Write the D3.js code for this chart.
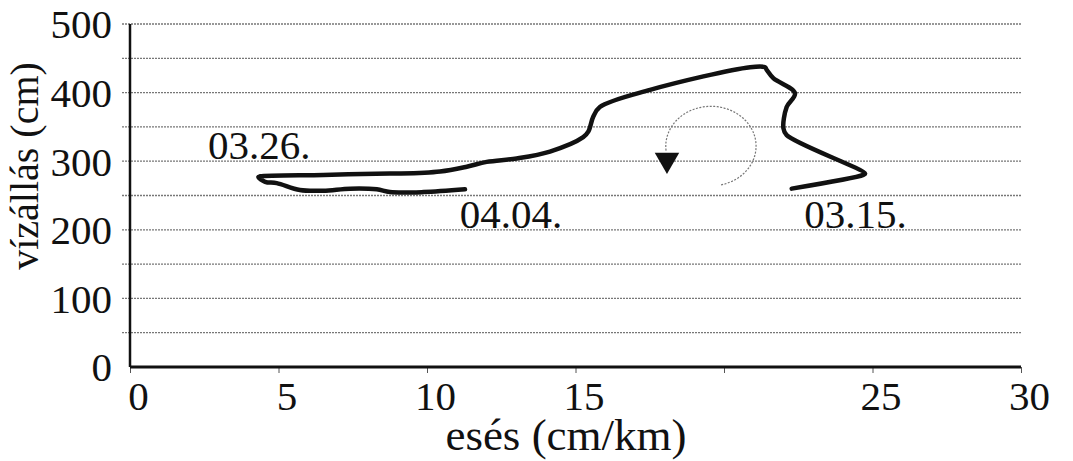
<!DOCTYPE html>
<html>
<head>
<meta charset="utf-8">
<script src="https://cdn.jsdelivr.net/npm/d3@7"></script>
<style>
  body { margin: 0; background: #fff; }
</style>
</head>
<body>
<svg width="1073" height="461"></svg>
<script>
// hysteresis loop: slope (cm/km) vs stage (cm), 03.15. -> 04.04.
const slope = [22.28, 24.69, 24.75, 22.11, 22.0, 22.11, 22.39, 21.66, 21.44, 21.38, 20.88,
  17.51, 15.82, 15.60, 15.43, 15.26, 14.14, 13.02, 12.01, 11.34, 10.44, 9.09, 8.75, 6.51,
  4.38, 4.32, 4.55, 4.94, 5.72, 6.51, 7.41, 8.31, 8.75, 9.88, 11.28];
const stage = [260, 280, 282, 338, 348, 379, 399, 421, 433, 437, 437,
  404, 379, 365, 343, 335, 314, 304, 299, 292, 285, 282, 282, 280,
  278, 277, 270, 268, 258, 257, 260, 259, 255, 255, 259];

const xTicks = [0, 5, 10, 15, 20, 25, 30];
const xTickLabels = ['0', '5', '10', '15', '', '25', '30'];
const yTicks = [0, 100, 200, 300, 400, 500];
const gridValues = [50, 100, 150, 200, 250, 300, 350, 400, 450, 500];

const dateLabels = ['03.26.', '04.04.', '03.15.'];
const dateLabelX = [2.63, 11.1, 22.7];
const dateLabelY = [303, 203, 202];

const FONT = 'Liberation Serif, DejaVu Serif, Times New Roman, serif';

const svg = d3.select('svg');
const width = +svg.attr('width');
const height = +svg.attr('height');

const margin = {top: 24, right: 52, bottom: 94, left: 130};
const innerWidth = width - margin.left - margin.right;
const innerHeight = height - margin.top - margin.bottom;

const xScale = d3.scaleLinear().domain([0, 30]).range([0, innerWidth]);
const yScale = d3.scaleLinear().domain([0, 500]).range([innerHeight, 0]);

const g = svg.append('g')
    .attr('transform', `translate(${margin.left}, ${margin.top})`);

// gridlines
g.selectAll('.grid').data(gridValues)
  .enter().append('line')
    .attr('x1', -8)
    .attr('x2', innerWidth)
    .attr('y1', d => yScale(d))
    .attr('y2', d => yScale(d))
    .attr('stroke', '#777')
    .attr('stroke-width', 1.3)
    .attr('stroke-dasharray', '2,1');

// y axis
const yAxis = d3.axisLeft(yScale).tickValues(yTicks).tickSize(0).tickPadding(18);
const yG = g.append('g').call(yAxis)
    .attr('font-family', FONT).attr('font-size', 41);
yG.select('.domain').remove();
yG.selectAll('text').attr('fill', '#111').attr('dy', '0.34em');

// x axis
const xAxis = d3.axisBottom(xScale).tickValues(xTicks)
    .tickFormat((d, i) => xTickLabels[i]).tickSize(6).tickPadding(8);
const xG = g.append('g').attr('transform', `translate(0, ${innerHeight})`).call(xAxis)
    .attr('font-family', FONT).attr('font-size', 41);
xG.select('.domain').remove();
xG.selectAll('.tick line').attr('stroke', '#555');
xG.selectAll('text').attr('fill', '#111').attr('x', 8);

// axis lines
g.append('line').attr('x1', 0).attr('x2', 0).attr('y1', 0).attr('y2', innerHeight)
    .attr('stroke', '#111').attr('stroke-width', 2.5);
g.append('line').attr('x1', 0).attr('x2', innerWidth).attr('y1', innerHeight).attr('y2', innerHeight)
    .attr('stroke', '#111').attr('stroke-width', 3);

// loop curve
const points = slope.map((s, i) => [s, stage[i]]);
const line = d3.line()
    .x(d => xScale(d[0]))
    .y(d => yScale(d[1]))
    .curve(d3.curveCatmullRom.alpha(0.5));
g.append('path')
    .datum(points)
    .attr('d', line)
    .attr('fill', 'none')
    .attr('stroke', '#111')
    .attr('stroke-width', 4.5)
    .attr('stroke-linejoin', 'round')
    .attr('stroke-linecap', 'round');

// direction arrow (thin dashed arc)
const cx = 19.56, cy = 322, rx = 1.52, ry = 58;
const arcAngles = d3.range(77, -189, -3);
const arcPts = arcAngles.map(a => [cx + rx * Math.cos(a * Math.PI / 180), cy - ry * Math.sin(a * Math.PI / 180)]);
g.append('path')
    .datum(arcPts)
    .attr('d', d3.line().x(d => xScale(d[0])).y(d => yScale(d[1])).curve(d3.curveCatmullRom))
    .attr('fill', 'none')
    .attr('stroke', '#777')
    .attr('stroke-width', 1.2)
    .attr('stroke-dasharray', '2,1.5');
g.append('path')
    .attr('d', d3.symbol().type(d3.symbolTriangle).size(260)())
    .attr('transform', `translate(${xScale(18.08)}, ${yScale(302)}) rotate(180)`)
    .attr('fill', '#111');

// date labels
g.selectAll('.date').data(dateLabels)
  .enter().append('text')
    .attr('x', (d, i) => xScale(dateLabelX[i]))
    .attr('y', (d, i) => yScale(dateLabelY[i]))
    .attr('font-family', FONT)
    .attr('font-size', 41)
    .attr('fill', '#111')
    .text(d => d);

// axis titles
svg.append('text')
    .attr('transform', 'translate(38, 166) rotate(-90)')
    .attr('text-anchor', 'middle')
    .attr('font-family', FONT)
    .attr('font-size', 40)
    .attr('fill', '#111')
    .text('vízállás (cm)');
svg.append('text')
    .attr('x', 566)
    .attr('y', 450)
    .attr('text-anchor', 'middle')
    .attr('font-family', FONT)
    .attr('font-size', 45)
    .attr('fill', '#111')
    .text('esés (cm/km)');
</script>
</body>
</html>
